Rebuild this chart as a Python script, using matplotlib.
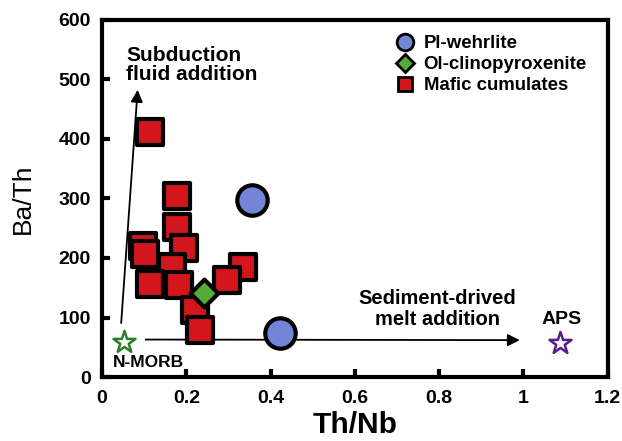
import matplotlib
matplotlib.use("Agg")
import matplotlib.pyplot as plt
from matplotlib.lines import Line2D

plt.rcParams['font.family'] = ['Liberation Sans', 'DejaVu Sans']
plt.rcParams['font.weight'] = 'bold'

# Data
pl_wehrlite_x = [0.356, 0.422]
pl_wehrlite_y = [297, 74]
ol_cpx_x = [0.243]
ol_cpx_y = [142]
mafic_x = [0.114, 0.178, 0.178, 0.098, 0.102, 0.194, 0.165, 0.335, 0.114, 0.183, 0.296, 0.221, 0.232]
mafic_y = [412, 304, 252, 220, 207, 216, 185, 185, 157, 155, 163, 113, 79]
nmorb = (0.053, 59)
aps = (1.086, 57)

xticks = [0, 0.2, 0.4, 0.6, 0.8, 1.0, 1.2]
xticklabels = ['0', '0.2', '0.4', '0.6', '0.8', '1', '1.2']
yticks = [0, 100, 200, 300, 400, 500, 600]

BLUE = '#7385d6'
GREEN = '#55ab3a'
RED = '#d2161c'

fig = plt.figure(figsize=(6.22, 4.41), dpi=100)
ax = fig.add_axes([0.164, 0.145, 0.813, 0.81])

ax.set_xlim(0, 1.2)
ax.set_ylim(0, 600)

# arrows
ax.annotate('', xy=(0.085, 487), xytext=(0.045, 86),
            arrowprops=dict(arrowstyle='-|>', color='black', lw=1.3, mutation_scale=18))
ax.annotate('', xy=(0.998, 62), xytext=(0.097, 63),
            arrowprops=dict(arrowstyle='-|>', color='black', lw=1.3, mutation_scale=18))

ax.scatter(mafic_x, mafic_y, marker='s', s=340, c=RED, edgecolors='black',
           linewidths=3, zorder=3)
ax.scatter(ol_cpx_x, ol_cpx_y, marker='D', s=200, c=GREEN, edgecolors='black',
           linewidths=3, zorder=4)
ax.scatter(pl_wehrlite_x, pl_wehrlite_y, marker='o', s=480, c=BLUE, edgecolors='black',
           linewidths=3, zorder=4)

ax.scatter([nmorb[0]], [nmorb[1]], marker='*', s=280, c='white', edgecolors='#2e7d2e',
           linewidths=1.8, zorder=5)
ax.scatter([aps[0]], [aps[1]], marker='*', s=280, c='white', edgecolors='#5a1a90',
           linewidths=1.8, zorder=5)

ax.text(0.111, 25, 'N-MORB', ha='center', va='center', fontsize=12.5, fontweight='bold')
ax.text(1.09, 96, 'APS', ha='center', va='center', fontsize=14, fontweight='bold')
ax.text(0.058, 524, 'Subduction\nfluid addition', ha='left', va='center', fontsize=15,
        fontweight='bold', linespacing=1.05)
ax.text(0.795, 114, 'Sediment-drived\nmelt addition', ha='center', va='center', fontsize=14.5,
        fontweight='bold', linespacing=1.1)

# legend
leg_handles = [
    Line2D([], [], marker='o', ls='none', markersize=12, markerfacecolor=BLUE, markeredgecolor='black', markeredgewidth=2),
    Line2D([], [], marker='D', ls='none', markersize=9, markerfacecolor=GREEN, markeredgecolor='black', markeredgewidth=2),
    Line2D([], [], marker='s', ls='none', markersize=10, markerfacecolor=RED, markeredgecolor='black', markeredgewidth=2),
]
ax.legend(leg_handles, ['Pl-wehrlite', 'Ol-clinopyroxenite', 'Mafic cumulates'],
          loc='upper left', bbox_to_anchor=(0.581, 0.957), frameon=False,
          handlelength=1.0, handletextpad=0.5, labelspacing=0.22, borderpad=0,
          borderaxespad=0, prop={'weight': 'bold', 'size': 13.4})

ax.set_xticks(xticks)
ax.set_xticklabels(xticklabels)
ax.set_yticks(yticks)
for s in ax.spines.values():
    s.set_linewidth(3)
ax.tick_params(direction='in', length=6, width=3, labelsize=14)
ax.tick_params(axis='x', pad=9)
ax.tick_params(axis='y', pad=8)
for lab in ax.get_xticklabels() + ax.get_yticklabels():
    lab.set_fontweight('bold')

ax.set_xlabel('Th/Nb', fontsize=21.5, fontweight='bold', labelpad=3)
ax.set_ylabel('Ba/Th', fontsize=19, fontweight='medium', labelpad=17)

fig.savefig('out.png', dpi=100)
